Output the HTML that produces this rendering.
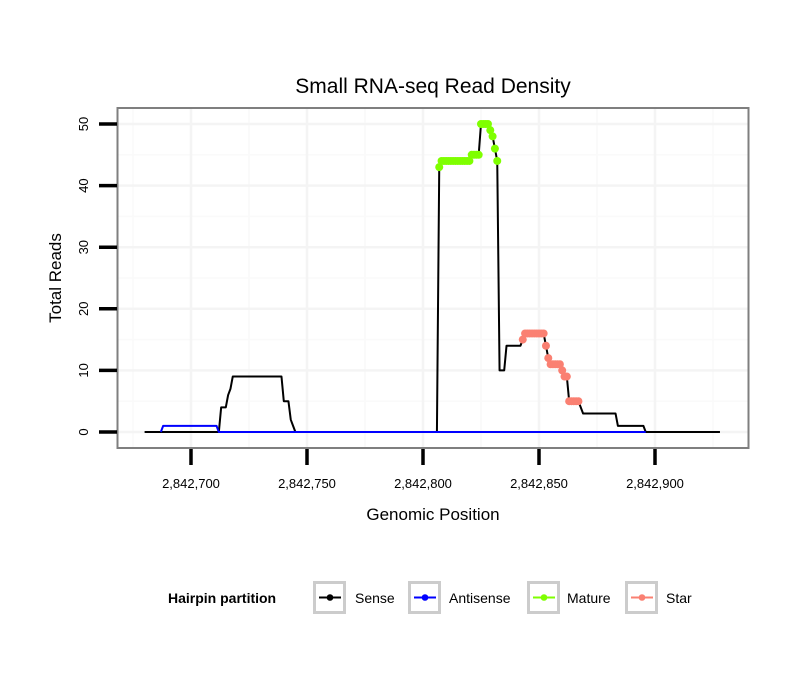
<!DOCTYPE html>
<html><head><meta charset="utf-8"><style>
body{margin:0;background:#fff;}
svg text{font-family:"Liberation Sans",sans-serif;}
</style></head><body>
<svg id="chart" width="810" height="690" xmlns="http://www.w3.org/2000/svg">
<rect width="810" height="690" fill="#fff"/>
<text x="433" y="93" font-size="21" text-anchor="middle">Small RNA-seq Read Density</text>
<g id="grid"></g>
<g id="series"></g>
<rect x="117.5" y="108" width="631" height="340" fill="none" stroke="#7f7f7f" stroke-width="2"/>
<g id="axes"></g>
<text x="433" y="520" font-size="17" text-anchor="middle">Genomic Position</text>
<text transform="translate(61,278) rotate(-90)" font-size="17" text-anchor="middle">Total Reads</text>
<g id="legend">
<text x="168" y="603" font-size="14" font-weight="bold">Hairpin partition</text>
</g>
</svg>
<script>
const base = 2842700;
const senseX = [-20,12,13,15,16,17,18,39,40,42,43,44,45,106,107,108,120,121,124,125,128,129,130,131,132,133,135,136,142,143,144,152,153,154,155,159,160,161,162,163,167,168,169,183,184,195,196,228];
const senseY = [0,0,4,4,6,7,9,9,5,5,2,1,0,0,43,44,44,45,45,50,50,49,48,46,44,10,10,14,14,15,16,16,14,12,11,11,10,9,9,5,5,4,3,3,1,1,0,0];
const antiX = [-13,-12,11,12,196];
const antiY = [0,1,1,0,0];
const matureX = [107,108,109,110,111,112,113,114,115,116,117,118,119,120,121,122,123,124,125,126,127,128,129,130,131,132];
const matureY = [43,44,44,44,44,44,44,44,44,44,44,44,44,44,45,45,45,45,50,50,50,50,49,48,46,44];
const starX = [143,144,145,146,147,148,149,150,151,152,153,154,155,156,157,158,159,160,161,162,163,164,165,166,167];
const starY = [15,16,16,16,16,16,16,16,16,16,14,12,11,11,11,11,11,10,9,9,5,5,5,5,5];
const xTicks = [2842700,2842750,2842800,2842850,2842900];
const xTickLabels = ["2,842,700","2,842,750","2,842,800","2,842,850","2,842,900"];
const yTicks = [0,10,20,30,40,50];
const yTickLabels = ["0","10","20","30","40","50"];

const NS="http://www.w3.org/2000/svg";
function X(p){return 191 + (p - 2842700) * 2.32;}
function Xo(o){return X(base + o);}
function Y(v){return 432 - v * 6.16;}
function mk(tag, attrs, parent){const e=document.createElementNS(NS,tag);for(const k in attrs)e.setAttribute(k,attrs[k]);parent.appendChild(e);return e;}
const grid=document.getElementById('grid'), series=document.getElementById('series'), axes=document.getElementById('axes'), legend=document.getElementById('legend');

for(let i=0;i<yTicks.length;i++){
  const v=yTicks[i]+5;
  const yy=Y(v); if(yy<108) continue;
  const l=mk('line',{x1:118,x2:748,y1:yy,y2:yy,stroke:'#fafafa','stroke-width':1.5},grid);
  
  
}
for(let i=0;i<xTicks.length;i++){
  for(const d of [-25,25]){
    const xx=X(xTicks[i]+d); if(xx<118||xx>748) continue;
    const l=mk('line',{x1:xx,x2:xx,y1:108,y2:448,stroke:'#fafafa','stroke-width':1.5},grid);
    
    
  }
}
yTicks.forEach((v,i)=>{
  const l=mk('line',{x1:118,x2:748,y1:Y(v),y2:Y(v),stroke:'#f4f4f4','stroke-width':2.5},grid);
  
  
  const t=mk('line',{x1:99,x2:117,y1:Y(v),y2:Y(v),stroke:'#000','stroke-width':3.5},axes);
  
  
  const tx=mk('text',{transform:`translate(88,${Y(v)}) rotate(-90)`,'font-size':13,'text-anchor':'middle'},axes);
  tx.textContent=yTickLabels[i];
  
  
});
xTicks.forEach((p,i)=>{
  const l=mk('line',{x1:X(p),x2:X(p),y1:108,y2:448,stroke:'#f4f4f4','stroke-width':2.5},grid);
  
  
  const t=mk('line',{x1:X(p),x2:X(p),y1:449,y2:465,stroke:'#000','stroke-width':3.5},axes);
  
  
  const tx=mk('text',{x:X(p),y:488,'font-size':13,'text-anchor':'middle'},axes);
  tx.textContent=xTickLabels[i];
  
  
});

function line(xs,ys,color,name){
  const pts=xs.map((o,i)=>Xo(o).toFixed(2)+','+Y(ys[i]).toFixed(2)).join(' ');
  const pl=mk('polyline',{points:pts,fill:'none',stroke:color,'stroke-width':2,'stroke-linejoin':'round'},series);
  
  
}
function dots(xs,ys,color,name){
  xs.forEach((o,i)=>{
    const c=mk('circle',{cx:Xo(o),cy:Y(ys[i]),r:4,fill:color},series);
    
    
  });
}
line(senseX,senseY,'#000','sense-line');
line(antiX,antiY,'#0000ff','antisense-line');
dots(matureX,matureY,'#7fff00','mature-point');
dots(starX,starY,'#fa8072','star-point');

const items=[["Sense","#000",313,355],["Antisense","#0000ff",408,449],["Mature","#7fff00",527,567],["Star","#fa8072",625,666]];
items.forEach(it=>{
  const r=mk('rect',{x:it[2]+1.5,y:582.5,width:30,height:30,fill:'#fff',stroke:'#cccccc','stroke-width':3},legend);
  
  
  const l=mk('line',{x1:it[2]+6,x2:it[2]+28,y1:597.5,y2:597.5,stroke:it[1],'stroke-width':2},legend);
  
  
  const c=mk('circle',{cx:it[2]+17,cy:597.5,r:3.3,fill:it[1]},legend);
  
  
  const t=mk('text',{x:it[3],y:603,'font-size':14},legend);
  t.textContent=it[0];
  
  
});
</script>
</body></html>
